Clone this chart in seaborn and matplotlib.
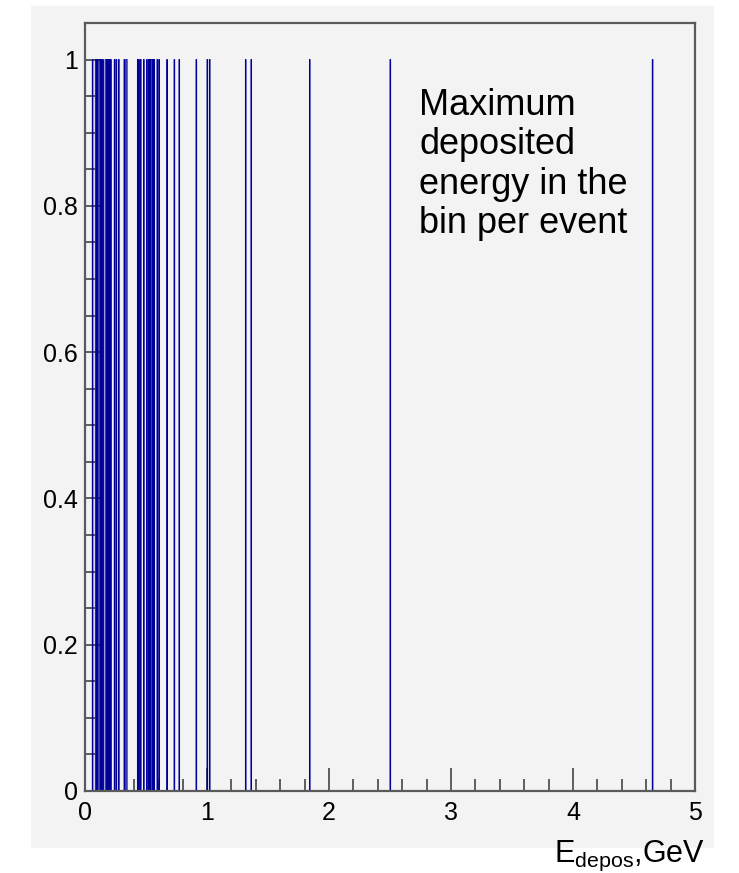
import matplotlib
matplotlib.use("Agg")
import matplotlib.pyplot as plt
import matplotlib.patches as mpatches
import numpy as np
import pandas as pd
import seaborn as sns

# Data: energies (GeV) of the events, each bin content = 1
energies = [0.062, 0.085, 0.092, 0.10, 0.115, 0.122, 0.13, 0.145, 0.165, 0.172,
            0.18, 0.19, 0.20, 0.21, 0.24, 0.255, 0.275, 0.32, 0.335, 0.345,
            0.43, 0.44, 0.456, 0.48, 0.505, 0.52, 0.53, 0.54, 0.548, 0.555,
            0.57, 0.59, 0.605, 0.67, 0.73, 0.77, 0.91, 1.00, 1.02, 1.315,
            1.36, 1.84, 2.50, 4.65]
x_ticks = [0, 1, 2, 3, 4, 5]
x_ticklabels = ["0", "1", "2", "3", "4", "5"]
y_ticks = [0, 0.2, 0.4, 0.6, 0.8, 1.0]
y_ticklabels = ["0", "0.2", "0.4", "0.6", "0.8", "1"]
annotation = "Maximum\ndeposited\nenergy in the\nbin per event"

sns.set_theme(style="white")
plt.rcParams["font.family"] = ["Liberation Sans", "DejaVu Sans"]
plt.rcParams["mathtext.fontset"] = "custom"
plt.rcParams["mathtext.rm"] = "Liberation Sans"
plt.rcParams["mathtext.it"] = "Liberation Sans"

W, H = 739, 873
fig = plt.figure(figsize=(W / 100, H / 100), dpi=100, facecolor="white")

# gray canvas panel
fig.patches.append(mpatches.Rectangle((31 / W, 1 - 848 / H), (714 - 31) / W, (848 - 6) / H,
                                      transform=fig.transFigure, facecolor="#f3f3f3",
                                      edgecolor="none", zorder=-10))

left, right, top, bottom = 85, 695, 23, 791
ax = fig.add_axes([left / W, 1 - bottom / H, (right - left) / W, (bottom - top) / H])
ax.set_zorder(5)
ax.set_facecolor("#f3f3f3")

df = pd.DataFrame({"E": energies})
sns.histplot(data=df, x="E", bins=np.arange(0, 5.0001, 0.005), element="step",
             fill=False, color="#000099", linewidth=0.7, ax=ax)

ax.set_xlim(0, 5)
ax.set_ylim(0, 1.05)
ax.set_xlabel("")
ax.set_ylabel("")

ax.set_xticks(x_ticks)
ax.set_xticklabels(x_ticklabels, fontsize=18, color="black")
ax.set_xticks(np.arange(0, 5.0001, 0.2), minor=True)
ax.set_yticks(y_ticks)
ax.set_yticklabels(y_ticklabels, fontsize=18, color="black")
ax.set_yticks(np.arange(0, 1.0001, 0.05), minor=True)

ax.tick_params(axis="x", which="major", direction="in", length=16.5, width=1.2,
               color="#444444", pad=7, bottom=True, top=False)
ax.tick_params(axis="x", which="minor", direction="in", length=8.5, width=1.2,
               color="#444444", bottom=True, top=False)
ax.tick_params(axis="y", which="major", direction="in", length=13, width=1.2,
               color="#444444", pad=5, left=True, right=False)
ax.tick_params(axis="y", which="minor", direction="in", length=7, width=1.2,
               color="#444444", left=True, right=False)

for s in ax.spines.values():
    s.set_visible(True)
    s.set_color("#5a5a5a")
    s.set_linewidth(1.6)

ax.text(419 / W, 1 - 88 / H, annotation, fontsize=26, va="top", ha="left",
        linespacing=1.16, color="black", transform=fig.transFigure)
fig.text(705 / W, 1 - 862 / H, r"E$_{\mathrm{depos}}$,GeV", fontsize=22,
         ha="right", va="baseline", color="black")

fig.savefig("out.png", dpi=100, facecolor="white")
